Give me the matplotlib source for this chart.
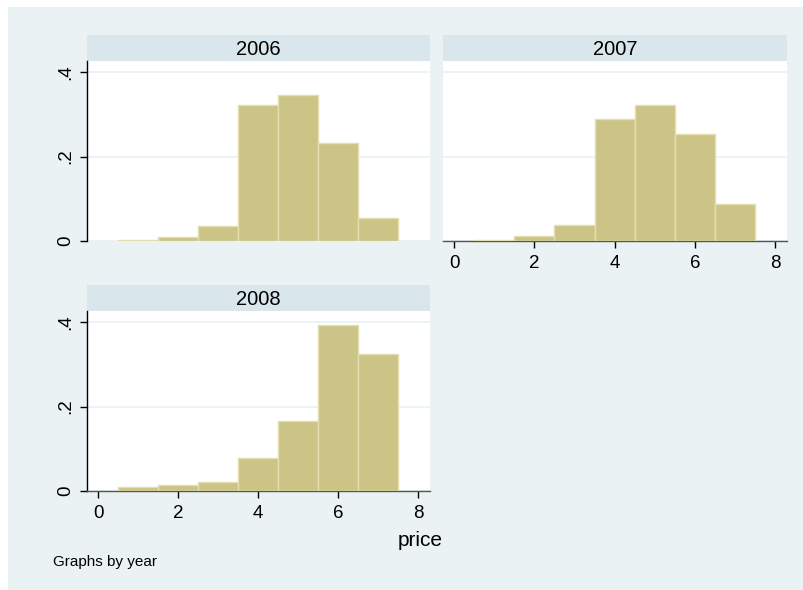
import matplotlib
matplotlib.use("Agg")
import matplotlib.pyplot as plt
from matplotlib.patches import Rectangle

# histogram of price by year (density, bin width 1)
years = ["2006", "2007", "2008"]
bin_centers = [1, 2, 3, 4, 5, 6, 7]
dens_2006 = [0.003, 0.010, 0.036, 0.321, 0.346, 0.231, 0.055]
dens_2007 = [0.003, 0.013, 0.037, 0.289, 0.323, 0.253, 0.087]
dens_2008 = [0.010, 0.015, 0.022, 0.077, 0.166, 0.394, 0.325]
xticks = [0, 2, 4, 6, 8]
yticks = [0, 0.2, 0.4]
ytick_labels = ["0", ".2", ".4"]

BG = "#EAF2F3"
STRIP = "#D9E6EB"
BAR = "#CCC486"
BAR_EDGE = "#E4DEB0"

plt.rcParams["font.family"] = ["Liberation Sans", "DejaVu Sans"]

W, H = 804, 590
fig = plt.figure(figsize=(W / 100, H / 100), dpi=100)
fig.patch.set_facecolor("white")
fig.patches.append(Rectangle((8 / W, 0), 1, (H - 7) / H, transform=fig.transFigure,
                             facecolor=BG, edgecolor="none", zorder=-10))


def px_axes(x0, y0, x1, y1):
    return fig.add_axes([x0 / W, (H - y1) / H, (x1 - x0) / W, (y1 - y0) / H])


def panel(x0, y0, x1, y1, title, dens, show_x, show_y):
    # header strip
    st = px_axes(x0, y0 - 26, x1, y0)
    st.set_facecolor(STRIP)
    st.set_xticks([])
    st.set_yticks([])
    for s in st.spines.values():
        s.set_visible(False)
    st.text(0.5, 0.45, title, ha="center", va="center", fontsize=14.5, transform=st.transAxes)

    ax = px_axes(x0, y0, x1, y1)
    ax.set_facecolor("white")
    ax.bar(bin_centers, dens, width=1, color=BAR, edgecolor=BAR_EDGE, linewidth=1, zorder=3)
    ax.set_xlim(-0.28, 8.3)
    ax.set_ylim(0, 180 / 422.5)
    ax.set_yticks(yticks)
    ax.grid(axis="y", color=BG, linewidth=1.3, zorder=0)
    ax.set_axisbelow(True)
    for s in ["top", "right"]:
        ax.spines[s].set_visible(False)

    if show_y:
        ax.spines["left"].set_color("black")
        ax.spines["left"].set_linewidth(1)
        ax.set_yticklabels(ytick_labels, rotation=90, va="center", fontsize=13.5)
        ax.tick_params(axis="y", length=5, width=1, pad=4)
    else:
        ax.spines["left"].set_visible(False)
        ax.tick_params(axis="y", length=0, labelleft=False)

    if show_x:
        ax.spines["bottom"].set_color("#555555")
        ax.spines["bottom"].set_linewidth(1)
        ax.set_xticks(xticks)
        ax.set_xticklabels([str(t) for t in xticks], fontsize=13.5)
        ax.tick_params(axis="x", length=5, width=1, pad=5)
    else:
        ax.spines["bottom"].set_visible(False)
        ax.set_xticks([])
    return ax


panel(87, 61, 430, 241, years[0], dens_2006, show_x=False, show_y=True)
panel(443, 61, 787, 241, years[1], dens_2007, show_x=True, show_y=False)
panel(87, 311, 430, 491, years[2], dens_2008, show_x=True, show_y=True)

fig.text(443 / W, 1 - 540 / H, "price", ha="right", va="center", fontsize=15)
fig.text(53 / W, 1 - 562 / H, "Graphs by year", ha="left", va="center", fontsize=11)

fig.savefig("out.png", dpi=100, facecolor=fig.get_facecolor())
